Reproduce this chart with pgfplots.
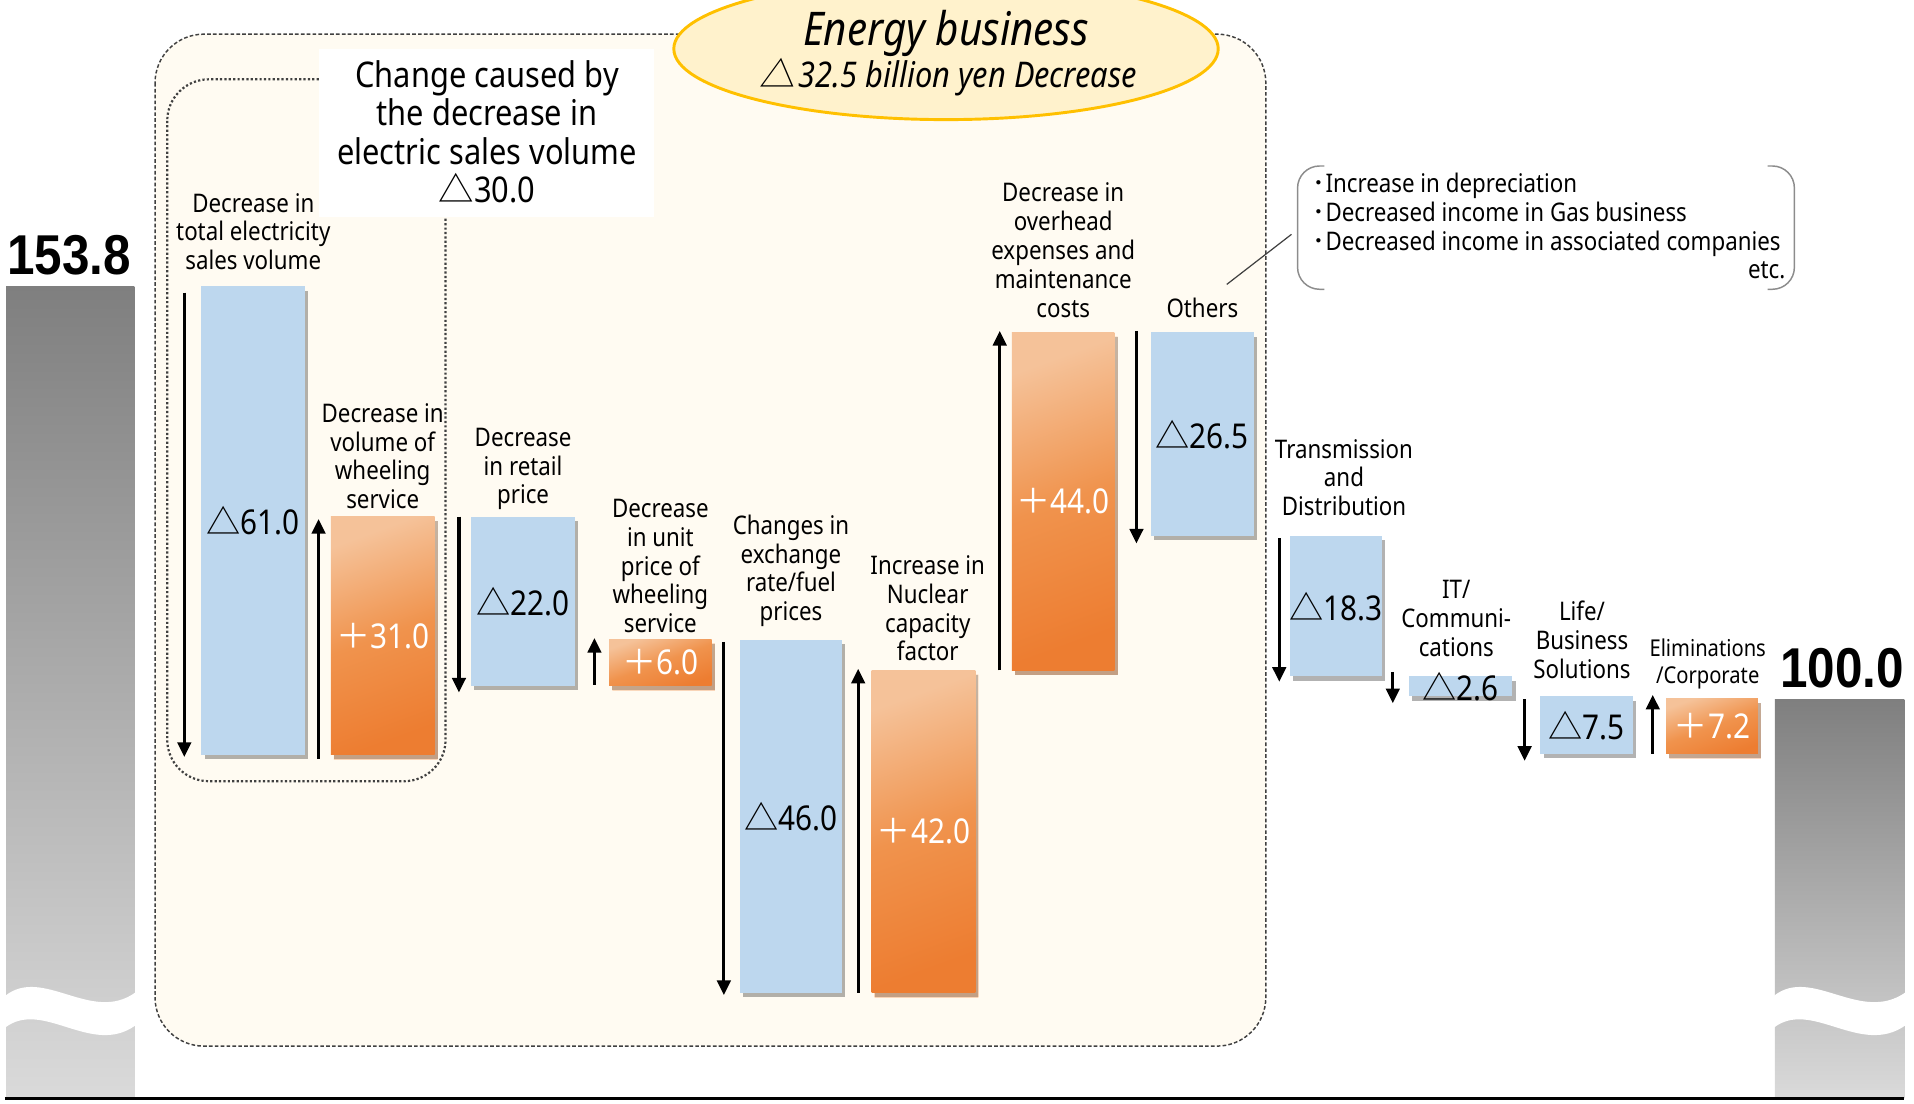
\documentclass[border=0pt]{standalone}
\usepackage{fontspec}
\setmainfont{Noto Sans}[FakeStretch=0.87]
\newfontfamily\cjk{Noto Sans CJK JP}
\newfontfamily\cjksl{Noto Sans CJK JP}[FakeSlant=0.15]
\newfontfamily\bignum{Liberation Sans}[FakeStretch=0.88]
\usepackage{pgfplots}
\pgfplotsset{compat=1.18}
\usetikzlibrary{arrows.meta,shadows}
\definecolor{barblue}{HTML}{BDD7EE}
\definecolor{orL}{HTML}{F5C299}
\definecolor{orM}{HTML}{F0934D}
\definecolor{orD}{HTML}{ED7D31}
\definecolor{grT}{HTML}{7F7F7F}
\definecolor{grB}{HTML}{DADADA}
\definecolor{beige}{HTML}{FFFBF2}
\definecolor{ellF}{HTML}{FFF2CC}
\definecolor{ellD}{HTML}{FFC000}
\definecolor{dgray}{HTML}{404040}
\definecolor{mgray}{HTML}{8C8C8C}
\newcommand{\tri}{{\cjk △}}
\newcommand{\pls}{{\cjk ＋}}
\newcommand{\lab}{\fontsize{10.5}{11.8}\selectfont}
\newcommand{\slab}{\fontsize{9.5}{11}\selectfont}
\newcommand{\vlab}{\fontsize{14}{15}\selectfont}
\tikzset{
  bb/.style={draw=none, fill=barblue, drop shadow={shadow xshift=1.3pt, shadow yshift=-1.8pt, opacity=0.3, fill=black}},
  ob/.style={draw=none, top color=orL, bottom color=orD, middle color=orM, shading angle=20, drop shadow={shadow xshift=1.3pt, shadow yshift=-1.8pt, opacity=0.3, fill=black}},
  arr/.style={line width=1.3pt, -{Triangle[length=6pt, width=5.5pt]}},
  lbl/.style={anchor=south, inner sep=0pt, align=center, font=\lab},
}
\begin{document}
\begin{tikzpicture}
% ---------- background decorations (pixel coordinates) ----------
\begin{scope}[shift={(0pt,452pt)}, x=0.5pt, y=-0.5pt]
  \draw[fill=beige, draw=dgray, line width=0.6pt, dash pattern=on 1.5pt off 0.9pt, rounded corners=20pt] (127,28) rectangle (1037,857);
  \draw[draw=dgray, line width=0.9pt, dash pattern=on 0.9pt off 0.9pt, rounded corners=17pt] (137,65) rectangle (365,640);
  \fill[white] (261,40) rectangle (536,178);
  \node[align=center, inner sep=0pt, font=\fontsize{14.5}{15.75}\selectfont] at (399,108) {Change caused by\\the decrease in\\electric sales volume\\\tri30.0};
  \draw[fill=ellF, draw=ellD, line width=1.2pt] (775,40) ellipse [x radius=111.5pt, y radius=29pt];
  \node[inner sep=0pt, font=\itshape\fontsize{19}{21}\selectfont] at (775,27) {Energy business};
  \node[inner sep=0pt, font=\itshape\fontsize{14.5}{16}\selectfont] at (777,63) {{\cjksl △}\kern1.5pt 32.5 billion yen Decrease};
\end{scope}
% ---------- waterfall ----------
\begin{axis}[at={(0pt,0pt)}, anchor=south west, scale only axis, width=784pt, height=452pt,
  xmin=0, xmax=1568, ymin=47.38, ymax=191.10, hide axis, clip=false]
% start / end totals
\addplot[draw=none, top color=grT, bottom color=grB] coordinates {(5,48.0) (110,48.0) (110,153.8) (5,153.8)};
\addplot[draw=none, top color=grT, bottom color=grB] coordinates {(1454,48.0) (1560,48.0) (1560,100.0) (1454,100.0)};
% changes
\addplot[bb] coordinates {(165,92.8) (250,92.8) (250,153.8) (165,153.8)};
\addplot[ob] coordinates {(271,92.8) (356,92.8) (356,123.8) (271,123.8)};
\addplot[bb] coordinates {(386,101.8) (471,101.8) (471,123.8) (386,123.8)};
\addplot[ob] coordinates {(499,101.8) (583,101.8) (583,107.8) (499,107.8)};
\addplot[bb] coordinates {(606,61.8) (690,61.8) (690,107.8) (606,107.8)};
\addplot[ob] coordinates {(714,61.8) (799,61.8) (799,103.8) (714,103.8)};
\addplot[ob] coordinates {(829,103.8) (913,103.8) (913,147.8) (829,147.8)};
\addplot[bb] coordinates {(943,121.3) (1027,121.3) (1027,147.8) (943,147.8)};
\addplot[bb] coordinates {(1057,103.0) (1132,103.0) (1132,121.3) (1057,121.3)};
\addplot[bb] coordinates {(1154,100.4) (1239,100.4) (1239,103.0) (1154,103.0)};
\addplot[bb] coordinates {(1262,92.9) (1338,92.9) (1338,100.4) (1262,100.4)};
\addplot[ob] coordinates {(1365,92.9) (1440,92.9) (1440,100.1) (1365,100.1)};
% arrows
\draw[arr] (axis cs:151,153.0) -- (axis cs:151,92.5);
\draw[arr] (axis cs:261,92.3) -- (axis cs:261,123.5);
\draw[arr] (axis cs:376,123.8) -- (axis cs:376,100.9);
\draw[arr] (axis cs:487,101.9) -- (axis cs:487,108.0);
\draw[arr] (axis cs:593,107.5) -- (axis cs:593,61.5);
\draw[arr] (axis cs:703,61.8) -- (axis cs:703,104.0);
\draw[arr] (axis cs:819,103.8) -- (axis cs:819,148.0);
\draw[arr] (axis cs:931,148.0) -- (axis cs:931,120.3);
\draw[arr] (axis cs:1048,121.0) -- (axis cs:1048,102.3);
\draw[arr] (axis cs:1141,103.6) -- (axis cs:1141,99.5);
\draw[arr] (axis cs:1249,100.0) -- (axis cs:1249,92.0);
\draw[arr] (axis cs:1354,92.9) -- (axis cs:1354,100.6);
% value labels
\node[font=\vlab] at (axis cs:207.5,123.3) {\tri61.0};
\node[font=\vlab, text=white] at (axis cs:313.5,108.3) {\pls31.0};
\node[font=\vlab] at (axis cs:428.5,112.8) {\tri22.0};
\node[font=\vlab, text=white] at (axis cs:541,104.8) {\pls6.0};
\node[font=\vlab] at (axis cs:648,84.8) {\tri46.0};
\node[font=\vlab, text=white] at (axis cs:756.5,82.8) {\pls42.0};
\node[font=\vlab, text=white] at (axis cs:871,125.8) {\pls44.0};
\node[font=\vlab] at (axis cs:985,134.55) {\tri26.5};
\node[font=\vlab] at (axis cs:1094.5,112.15) {\tri18.3};
\node[font=\vlab] at (axis cs:1196.5,101.7) {\tri2.6};
\node[font=\vlab] at (axis cs:1300,96.65) {\tri7.5};
\node[font=\vlab, text=white] at (axis cs:1402.5,96.5) {\pls7.2};
% totals
\node[anchor=base, inner sep=0pt, yshift=5pt, font=\bignum\bfseries\fontsize{23}{27}\selectfont] at (axis cs:56.5,153.8) {153.8};
\node[anchor=base, inner sep=0pt, yshift=5pt, font=\bignum\bfseries\fontsize{23}{27}\selectfont] at (axis cs:1509,100.0) {100.0};
% category labels
\node[lbl, yshift=6.5pt] at (axis cs:207.5,153.8) {Decrease in\\total electricity\\sales volume};
\node[lbl, yshift=3pt] at (axis cs:313.5,123.8) {Decrease in\\volume of\\wheeling\\service};
\node[lbl, yshift=2.5pt] at (axis cs:428.5,123.8) {Decrease\\in retail\\price};
\node[lbl, yshift=2.5pt] at (axis cs:541,107.8) {Decrease\\in unit\\price of\\wheeling\\service};
\node[lbl, yshift=5pt] at (axis cs:648,107.8) {Changes in\\exchange\\rate/fuel\\prices};
\node[lbl, yshift=3.5pt] at (axis cs:760,103.8) {Increase in\\Nuclear\\capacity\\factor};
\node[lbl, yshift=6pt] at (axis cs:871,147.8) {Decrease in\\overhead\\expenses and\\maintenance\\costs};
\node[lbl, yshift=6pt] at (axis cs:985,147.8) {Others};
\node[lbl, yshift=8pt] at (axis cs:1101,121.3) {Transmission\\and\\Distribution};
\node[lbl, yshift=8pt] at (axis cs:1193,103.0) {IT/\\Communi-\\cations};
\node[lbl, yshift=7pt] at (axis cs:1296,100.4) {Life/\\Business\\Solutions};
\node[lbl, yshift=3.7pt, font=\slab] at (axis cs:1399,100.1) {Eliminations\\/Corporate};
\end{axis}
% ---------- foreground decorations (pixel coordinates) ----------
\begin{scope}[shift={(0pt,452pt)}, x=0.5pt, y=-0.5pt]
  \fill[white] (4,816) .. controls (35,791) and (75,839) .. (111,813) -- (111,840) .. controls (75,866) and (35,818) .. (4,842) -- cycle;
  \fill[white] (1453,816) .. controls (1484,791) and (1524,839) .. (1561,813) -- (1561,840) .. controls (1524,866) and (1484,818) .. (1453,842) -- cycle;
  \draw[line width=1.2pt] (4,900) -- (1560,900);
  \draw[mgray, line width=0.6pt, rounded corners=9pt] (1085,136) -- (1063,136) -- (1063,237) -- (1085,237);
  \draw[mgray, line width=0.6pt, rounded corners=9pt] (1448,136) -- (1470,136) -- (1470,237) -- (1448,237);
  \draw[dgray, line width=0.5pt] (1005,233) -- (1058,192);
  \node[anchor=base west, inner sep=0pt, font=\lab] at (1075,158) {{\cjk ･}Increase in depreciation};
  \node[anchor=base west, inner sep=0pt, font=\lab] at (1075,181.5) {{\cjk ･}Decreased income in Gas business};
  \node[anchor=base west, inner sep=0pt, font=\lab] at (1075,205) {{\cjk ･}Decreased income in associated companies};
  \node[anchor=base east, inner sep=0pt, font=\lab] at (1463,228.5) {etc.};
\end{scope}
\pgfresetboundingbox
\path (0pt,0pt) rectangle (784pt,452pt);
\end{tikzpicture}
\end{document}
